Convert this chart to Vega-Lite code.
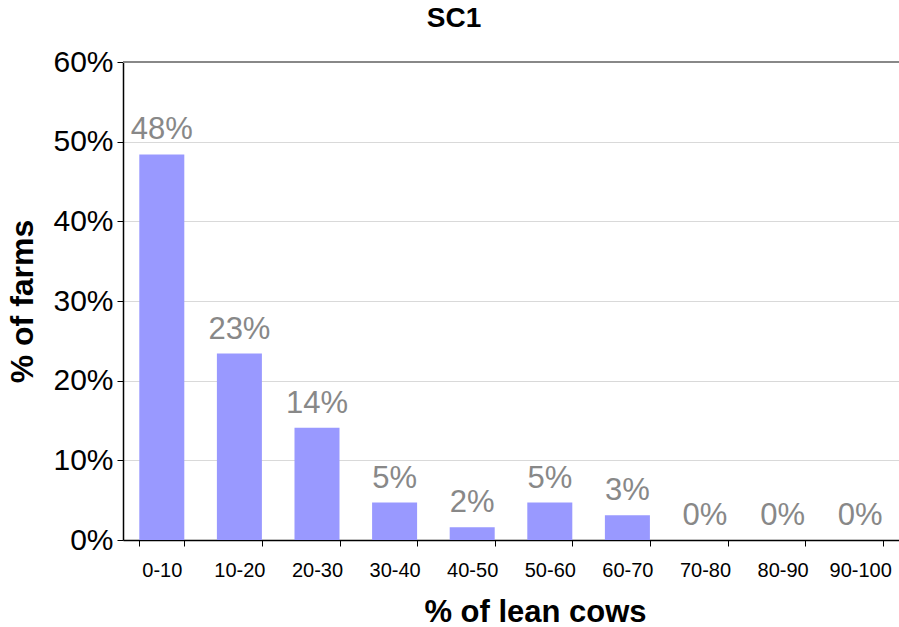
{
  "$schema": "https://vega.github.io/schema/vega-lite/v6.json",
  "autosize": "none",
  "width": 776,
  "height": 478,
  "padding": {"left": 123, "top": 62, "right": 0, "bottom": 87},
  "background": "white",
  "title": {"text": "SC1", "font": "Liberation Sans", "fontSize": 28, "fontWeight": "bold", "color": "black", "anchor": "middle", "dx": -57, "offset": 14},
  "data": {"values": [
    {"range": "0-10", "value": 0.484},
    {"range": "10-20", "value": 0.234},
    {"range": "20-30", "value": 0.141},
    {"range": "30-40", "value": 0.047},
    {"range": "40-50", "value": 0.016},
    {"range": "50-60", "value": 0.047},
    {"range": "60-70", "value": 0.031},
    {"range": "70-80", "value": 0},
    {"range": "80-90", "value": 0},
    {"range": "90-100", "value": 0}
  ]},
  "config": {"view": {"stroke": null}, "font": "Liberation Sans"},
  "encoding": {
    "x": {"field": "range", "type": "nominal", "sort": null,
      "scale": {"paddingInner": 0.42, "paddingOuter": 0.21},
      "axis": {"title": "% of lean cows", "titleFont": "Liberation Sans", "titleFontSize": 31, "titleFontWeight": "bold", "titleColor": "black", "titlePadding": 17, "titleX": 412,
        "labelAngle": 0, "labelFontSize": 20, "labelColor": "black", "labelPadding": 14, "tickBand": "extent", "tickColor": "black", "tickSize": 6, "domainColor": "black", "domainWidth": 1.5, "grid": false}},
    "y": {"field": "value", "type": "quantitative",
      "scale": {"domain": [0, 0.6]},
      "axis": {"title": "% of farms", "titleFont": "Liberation Sans", "titleFontSize": 32, "titleFontWeight": "bold", "titleColor": "black", "titlePadding": 13,
        "values": [0, 0.1, 0.2, 0.3, 0.4, 0.5, 0.6], "format": ".0%", "labelFontSize": 30, "labelColor": "black", "labelPadding": 4,
        "tickColor": "black", "tickSize": 6, "domainColor": "black", "domainWidth": 1.5, "grid": true, "gridColor": "#d9d9d9", "gridWidth": 1.2}}
  },
  "layer": [
    {"mark": {"type": "bar", "color": "#9999ff"}},
    {"mark": {"type": "text", "baseline": "alphabetic", "dy": -15, "fontSize": 31, "color": "#888888", "font": "Liberation Sans"},
      "encoding": {"text": {"field": "value", "type": "quantitative", "format": ".0%"}}},
    {"mark": {"type": "rule", "color": "#888888", "strokeWidth": 2},
      "encoding": {"y": {"datum": 0.6}, "x": null}}
  ]
}
